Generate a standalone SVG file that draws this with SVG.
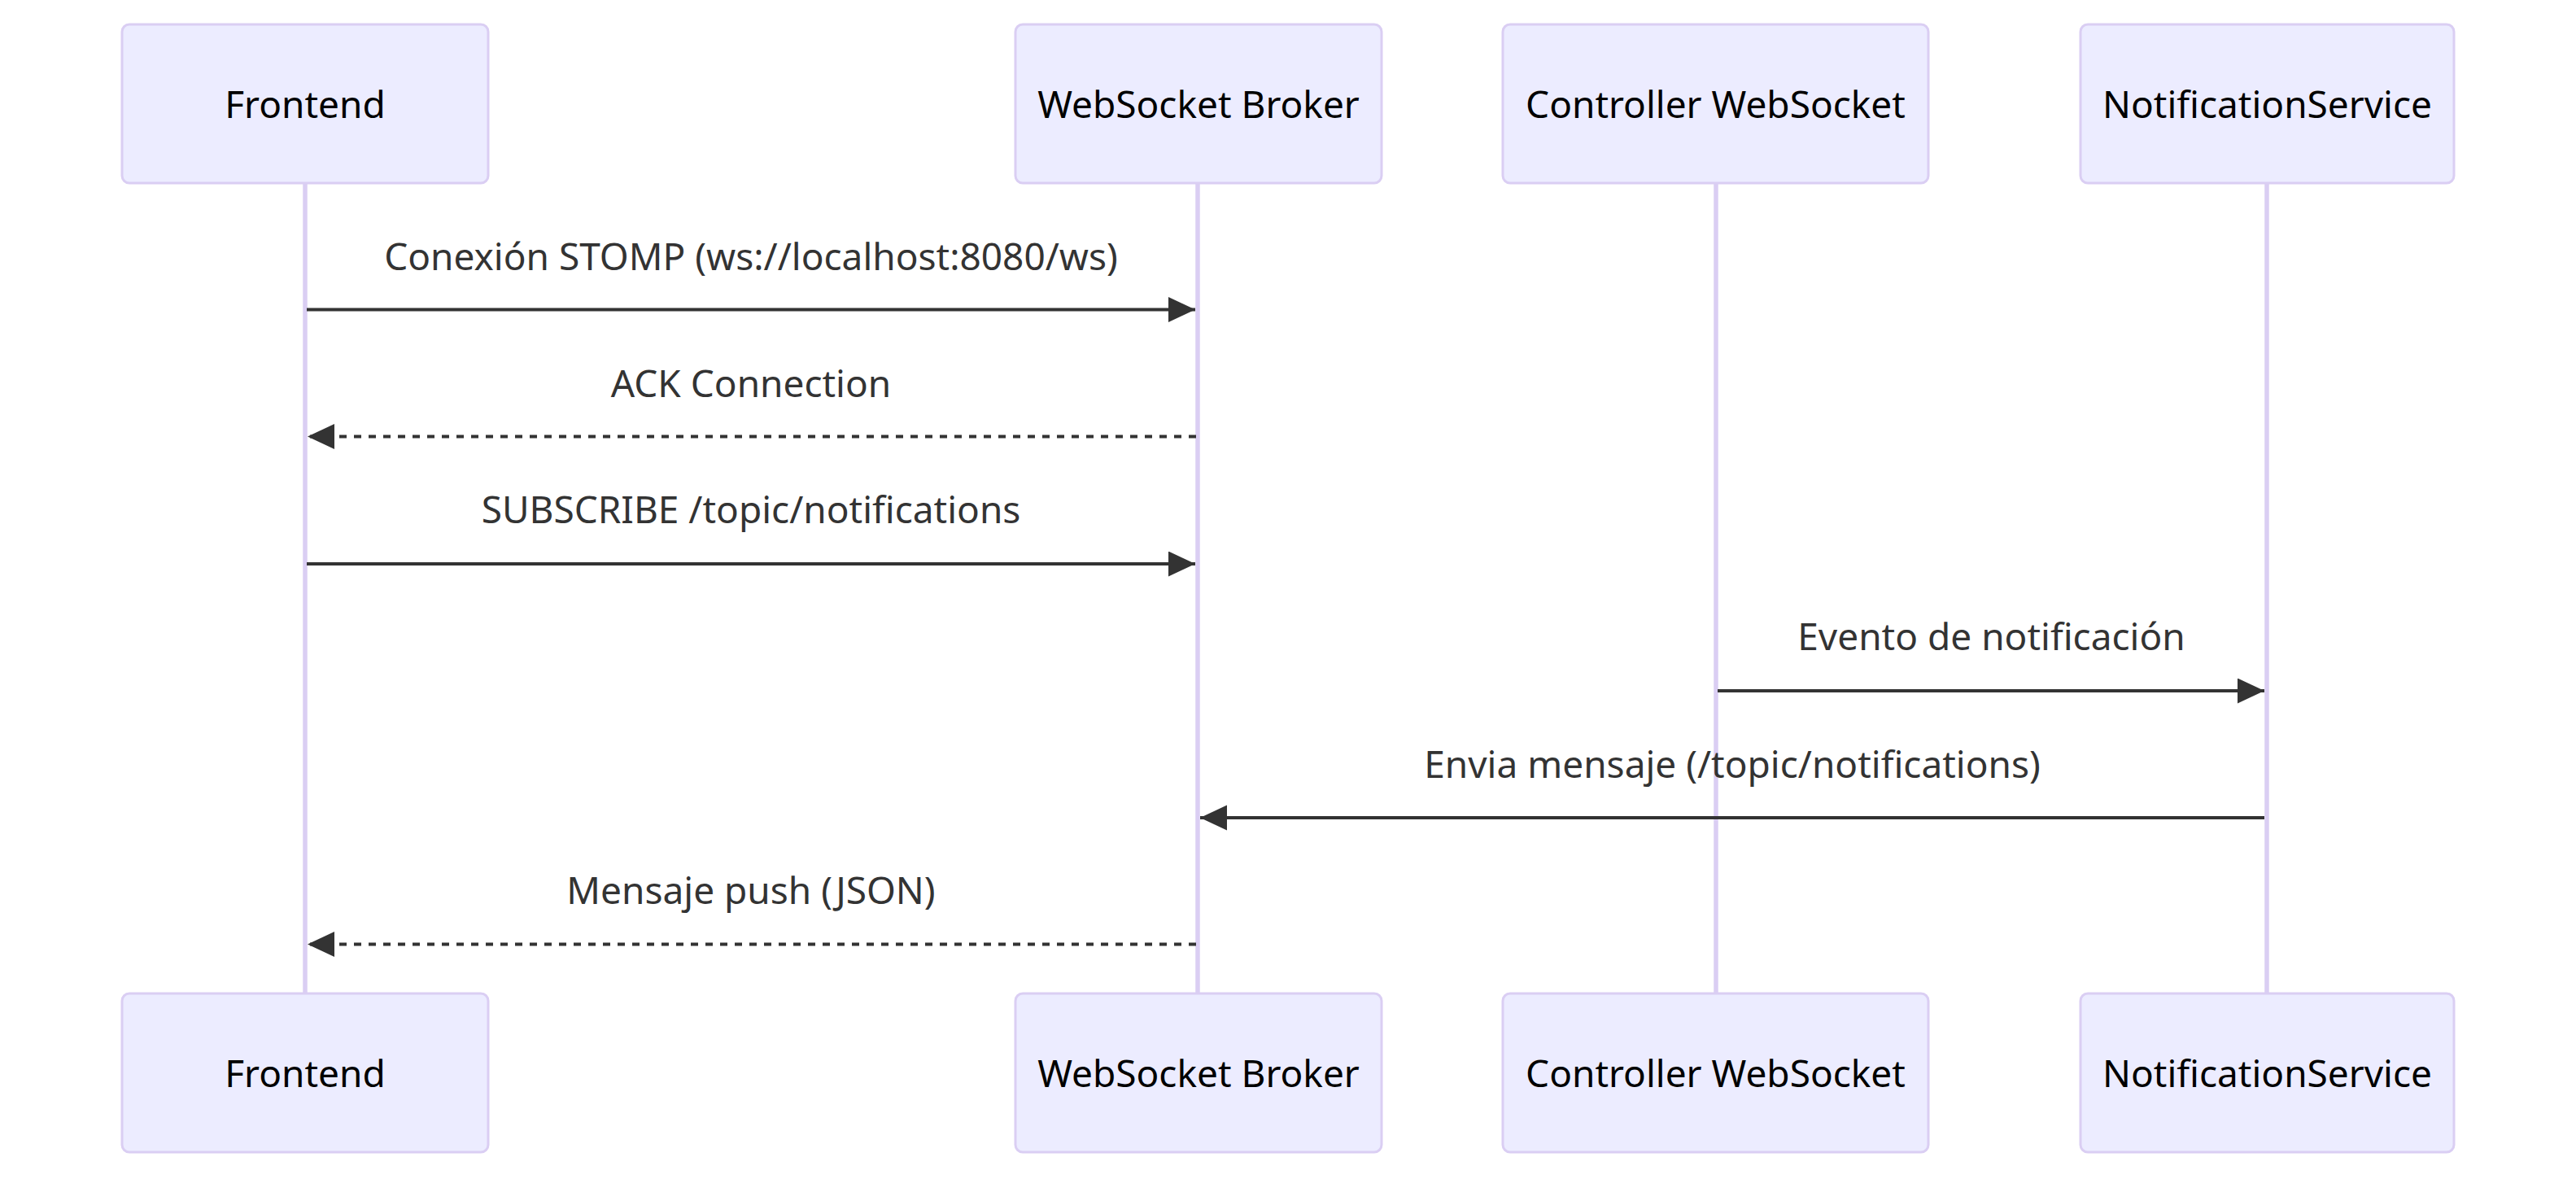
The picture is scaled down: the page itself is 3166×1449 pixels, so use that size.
<svg xmlns="http://www.w3.org/2000/svg" width="3166" height="1449" viewBox="0 0 3166 1449">
<style>
.actor{fill:#ECECFF;stroke:#dacef3;stroke-width:3}
.atext{font-family:"Noto Sans",sans-serif;font-size:46px;fill:#000;text-anchor:middle;dominant-baseline:central}
.life{stroke:#dacef3;stroke-width:5.5;fill:none}
.msg{stroke:#333;stroke-width:4;fill:none}
.dash{stroke-dasharray:9,9}
.mtext{font-family:"Noto Sans",sans-serif;font-size:46px;fill:#333;text-anchor:middle}
</style>
<defs>
<marker id="ah" markerUnits="userSpaceOnUse" markerWidth="34" markerHeight="32" refX="33" refY="15.5" orient="auto">
<path d="M0,0 L33,15.5 L0,31 z" fill="#333"/>
</marker>
</defs>
<g id="lifelines">
<line class="life" x1="375" y1="225" x2="375" y2="1221"/>
<line class="life" x1="1472" y1="225" x2="1472" y2="1221"/>
<line class="life" x1="2109" y1="225" x2="2109" y2="1221"/>
<line class="life" x1="2786" y1="225" x2="2786" y2="1221"/>
</g>
<g id="frontend-top"><rect class="actor" x="150" y="30" width="450" height="195" rx="9"/><text class="atext" x="375" y="126.5">Frontend</text></g>
<g id="broker-top"><rect class="actor" x="1248" y="30" width="450" height="195" rx="9"/><text class="atext" x="1473" y="126.5">WebSocket Broker</text></g>
<g id="controller-top"><rect class="actor" x="1847" y="30" width="523" height="195" rx="9"/><text class="atext" x="2108.5" y="126.5">Controller WebSocket</text></g>
<g id="notif-top"><rect class="actor" x="2557" y="30" width="459" height="195" rx="9"/><text class="atext" x="2786.5" y="126.5">NotificationService</text></g>
<g id="frontend-bottom"><rect class="actor" x="150" y="1221" width="450" height="195" rx="9"/><text class="atext" x="375" y="1318">Frontend</text></g>
<g id="broker-bottom"><rect class="actor" x="1248" y="1221" width="450" height="195" rx="9"/><text class="atext" x="1473" y="1318">WebSocket Broker</text></g>
<g id="controller-bottom"><rect class="actor" x="1847" y="1221" width="523" height="195" rx="9"/><text class="atext" x="2108.5" y="1318">Controller WebSocket</text></g>
<g id="notif-bottom"><rect class="actor" x="2557" y="1221" width="459" height="195" rx="9"/><text class="atext" x="2786.5" y="1318">NotificationService</text></g>
<g id="connectors">
<line class="msg" x1="377" y1="380.5" x2="1469" y2="380.5" marker-end="url(#ah)"/>
<text class="mtext" x="923" y="332">Conexión STOMP (ws://localhost:8080/ws)</text>
<line class="msg dash" x1="1470" y1="536.5" x2="378" y2="536.5" marker-end="url(#ah)"/>
<text class="mtext" x="923" y="488">ACK Connection</text>
<line class="msg" x1="377" y1="693" x2="1469" y2="693" marker-end="url(#ah)"/>
<text class="mtext" x="923" y="643">SUBSCRIBE /topic/notifications</text>
<line class="msg" x1="2111" y1="849" x2="2783" y2="849" marker-end="url(#ah)"/>
<text class="mtext" x="2447.5" y="799">Evento de notificación</text>
<line class="msg" x1="2783" y1="1005" x2="1475" y2="1005" marker-end="url(#ah)"/>
<text class="mtext" x="2129" y="956">Envia mensaje (/topic/notifications)</text>
<line class="msg dash" x1="1470" y1="1160.5" x2="378" y2="1160.5" marker-end="url(#ah)"/>
<text class="mtext" x="923" y="1111">Mensaje push (JSON)</text>
</g>
</svg>
